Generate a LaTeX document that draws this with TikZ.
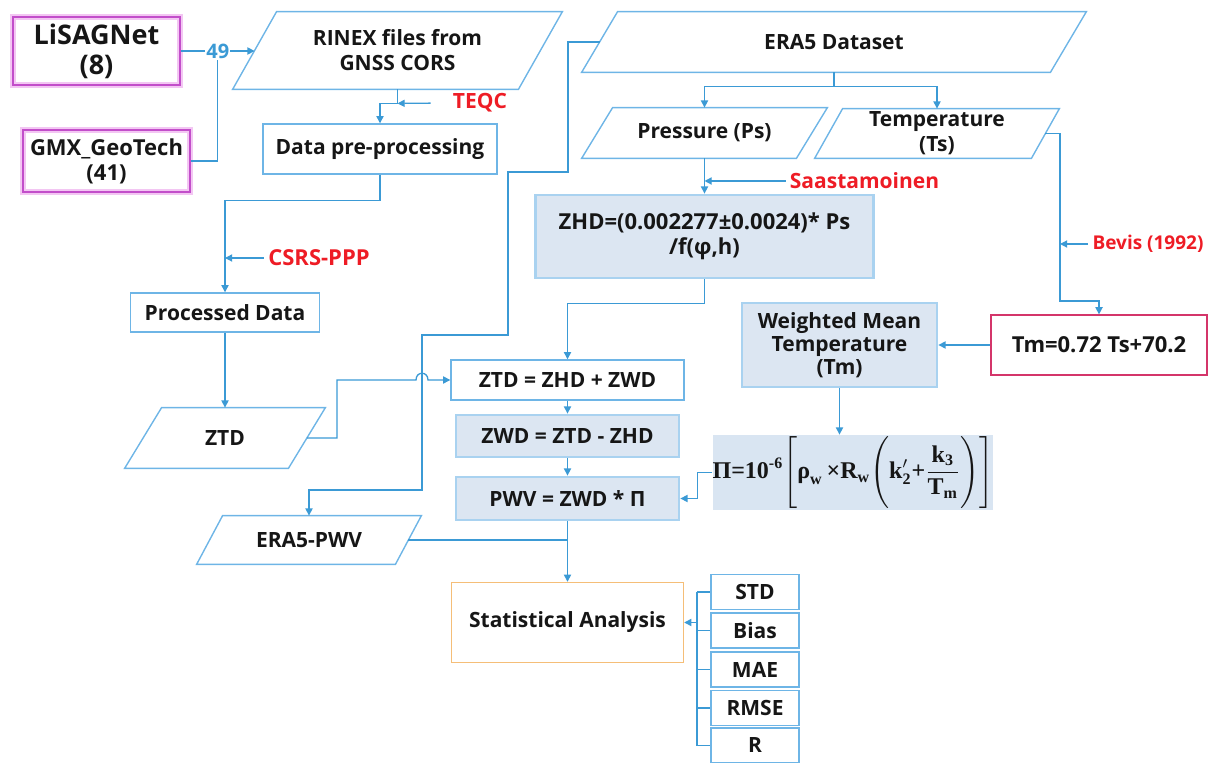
\documentclass[tikz,border=0pt]{standalone}
\usepackage{amsmath}
\usepackage{fontspec}
\setmainfont{Open Sans}
\newfontfamily\fmlafont{Liberation Serif}
\usetikzlibrary{arrows.meta,positioning}
\definecolor{inkblack} {HTML}{161616}
\definecolor{flowblue} {HTML}{3B9AD5}
\definecolor{boxblue}  {HTML}{6EB5E6}
\definecolor{glowblue} {HTML}{A9D2F0}
\definecolor{fillblue} {HTML}{DCE6F2}
\definecolor{formfill} {HTML}{D9E5F2}
\definecolor{magline}  {HTML}{C24ECA}
\definecolor{magglow}  {HTML}{F3C6F3}
\definecolor{crimson}  {HTML}{D4356A}
\definecolor{statorange}{HTML}{F5BE78}
\definecolor{toolred}  {HTML}{EE1C25}
% bold serif pieces for the weighting factor
\newcommand{\fb}[1]{\text{\fmlafont\bfseries #1}}

\begin{document}
\begin{tikzpicture}[x=0.5pt, y=-0.5pt,
    every node/.style={font=\bfseries\fontsize{10.5}{12.5}\selectfont, text=inkblack, align=center},
    flow/.style={draw=flowblue, line width=0.65pt, -{Triangle[length=3.6pt,width=3.6pt]}},
    link/.style={draw=flowblue, line width=0.65pt},
    plainbox/.style={draw=boxblue, line width=0.7pt, fill=white, inner sep=2pt},
    shadebox/.style={draw=glowblue, line width=1.4pt, fill=fillblue, inner sep=2pt},
    % data parallelogram, #1 = horizontal lean of the sides
    para/.style={inner sep=1pt, append after command={\pgfextra{
        \draw[draw=boxblue, line width=0.7pt]
          ([xshift=#1]\tikzlastnode.north west) -- (\tikzlastnode.north east)
          -- ([xshift=-#1]\tikzlastnode.south east) -- (\tikzlastnode.south west) -- cycle;}}},
    source/.style={draw=magline, line width=1pt, preaction={draw=magglow, line width=3.2pt}},
    tool/.style={text=toolred, inner xsep=2pt},
    metric/.style={plainbox, minimum width=44pt, minimum height=17.5pt}]
  \useasboundingbox (0,0) rectangle (1208,763);

  % GNSS branch
  \node[source, minimum width=83.5pt, minimum height=31pt,
        font=\bfseries\fontsize{13.5}{15}\selectfont] (lisag) at (96.5,51) {LiSAGNet\\(8)};
  \node[source, minimum width=83.5pt, minimum height=31pt,
        font=\bfseries\fontsize{11}{12.5}\selectfont] (gmx) at (106.5,161) {GMX\_GeoTech\\(41)};
  \node[para=22pt, minimum width=164.5pt, minimum height=38.5pt] (rinex) at (397.5,50.5)
    {RINEX files from\\GNSS CORS};
  \node[plainbox, minimum width=117pt, minimum height=25pt] (prep) at (380,149) {Data pre-processing};
  \node[plainbox, minimum width=94.5pt, minimum height=19.5pt] (proc) at (225,312.5) {Processed Data};
  \node[para=18.5pt, minimum width=100pt, minimum height=30pt] (ztd) at (225,438) {ZTD};

  \node[tool] (teqc) at (480,103) {TEQC};
  \node[tool, font=\bfseries\fontsize{11}{12.5}\selectfont] (csrs) at (319,258) {CSRS-PPP};

  % ERA5 branch
  \node[para=18pt, minimum width=252pt, minimum height=30pt] (era5) at (834,42) {ERA5 Dataset};
  \node[para=15.5pt, minimum width=122.5pt, minimum height=25pt] (press) at (704.5,133) {Pressure (Ps)};
  \node[para=14pt, minimum width=122pt, minimum height=24.5pt] (temp) at (937,133.5) {Temperature\\(Ts)};
  \node[shadebox, minimum width=169pt, minimum height=41.5pt,
        font=\bfseries\fontsize{11}{12.5}\selectfont] (zhd) at (704.5,236.5)
    {ZHD=(0.002277±0.0024)* Ps\\/f(φ,h)};
  \node[shadebox, minimum width=97.5pt, minimum height=42pt,
        font=\bfseries\fontsize{10.5}{11.5}\selectfont] (wmt) at (839.5,345)
    {Weighted Mean\\Temperature\\(Tm)};
  \node[draw=crimson, line width=0.6pt, fill=white, minimum width=108pt, minimum height=30pt,
        font=\bfseries\fontsize{11}{12.5}\selectfont] (tmeq) at (1099,345) {Tm=0.72 Ts+70.2};
  \node[fill=formfill, inner sep=0pt, minimum width=140pt, minimum height=37.5pt,
        font=\fontsize{12}{14}\selectfont] (pi) at (853,472.5)
    {$\displaystyle\fb{Π=10}^{\fb{-6}}\Biggl[\fb{ρ}_{\fb{w}}\,\fb{×}\fb{R}_{\fb{w}}
      \Biggl(\fb{k}^{\prime}_{\fb{2}}\fb{+}\frac{\fb{k}_{\fb{3}}}{\fb{T}_{\fb{m}}}\Biggr)\Biggr]$};

  \node[tool] (saast) at (864.5,181) {Saastamoinen};
  \node[tool, font=\bfseries\fontsize{9.5}{11}\selectfont] (bevis) at (1148,244) {Bevis (1992)};

  % delays and PWV
  \node[plainbox, minimum width=116.5pt, minimum height=20pt] (ztdeq) at (567.5,380) {ZTD = ZHD + ZWD};
  \node[shadebox, minimum width=111.5pt, minimum height=21pt] (zwd) at (567.5,436) {ZWD = ZTD - ZHD};
  \node[shadebox, minimum width=111.5pt, minimum height=21.5pt] (pwv) at (567.5,498.5) {PWV = ZWD * Π};
  \node[para=13pt, minimum width=112pt, minimum height=24pt] (epwv) at (309,540) {ERA5-PWV};

  % statistics
  \node[draw=statorange, line width=0.7pt, minimum width=116pt, minimum height=40pt] (stat)
    at (567.5,622.5) {Statistical Analysis};
  \node[metric] (std)  at (755,592)   {STD};
  \node[metric] (bias) at (755,630.5) {Bias};
  \node[metric] (mae)  at (755,669.5) {MAE};
  \node[metric] (rmse) at (755,708)   {RMSE};
  \node[metric] (rr)   at (755,745.5) {R};

  % connectors, GNSS side
  \coordinate (rinexin) at ([xshift=11pt]rinex.west);
  \draw[flow] (lisag.east) -- node[fill=white, inner sep=0.5pt, text=flowblue,
      font=\bfseries\fontsize{10}{12}\selectfont] (n49) {49} (lisag.east -| rinexin);
  \draw[link] (gmx.east) -| (n49.south);
  \draw[flow] (rinex.south) -- ++(0,14) coordinate (tq) -| (prep.north);
  \draw[flow, shorten <=9pt] (teqc.west) -- (tq);
  \draw[flow] (prep.south) -- ++(0,26) -| (proc.north);
  \draw[flow] (csrs.west) -- (csrs.west -| proc.north);
  \draw[flow] (proc.south) -- (ztd.north);
  \coordinate (zjog) at (337,380);
  \draw[flow] ([xshift=-9.25pt]ztd.east) -| (zjog) -- (416,380)
    .. controls (416,371) and (428,371) .. (428,380) -- (ztdeq.west);

  % connectors, ERA5 side
  \draw[flow] ([xshift=9pt]era5.west) -| (568,172) -| (508,335) -| (422,490) -| (epwv.north);
  \draw[link] (era5.south) -- ++(0,14) coordinate (split);
  \draw[flow] (split) -| (press.north);
  \draw[flow] (split) -| (temp.north);
  \draw[flow] (press.south) -- (zhd.north);
  \draw[flow] (saast.west) -- (saast.west -| press.south);
  \draw[flow] (zhd.south) -- ++(0,24) -| (ztdeq.north);
  \coordinate (tbend) at (1060,301);
  \draw[flow] ([xshift=-7pt]temp.east) -| (tbend) -| (tmeq.north);
  \draw[flow] (bevis.west) -- (bevis.west -| tbend);
  \draw[flow] (tmeq.west) -- (wmt.east);
  \draw[flow] (wmt.south) -- (wmt.south |- pi.north);
  \draw[flow] (pi.west) -- ++(-15,0) |- (pwv.east);
  \draw[flow] (ztdeq.south) -- (zwd.north);
  \draw[flow] (zwd.south) -- (pwv.north);
  \draw[link] ([xshift=-6.5pt]epwv.east) -- (epwv.east -| pwv.south);
  \draw[flow] (pwv.south) -- (stat.north);

  % metrics rail
  \coordinate (rail) at (697,622.5);
  \draw[link] (rail |- std.west) -- (rail |- rr.west);
  \foreach \m in {std,bias,mae,rmse,rr}
    \draw[link] (rail |- \m.west) -- (\m.west);
  \draw[flow] (rail) -- (stat.east);
\end{tikzpicture}
\end{document}
